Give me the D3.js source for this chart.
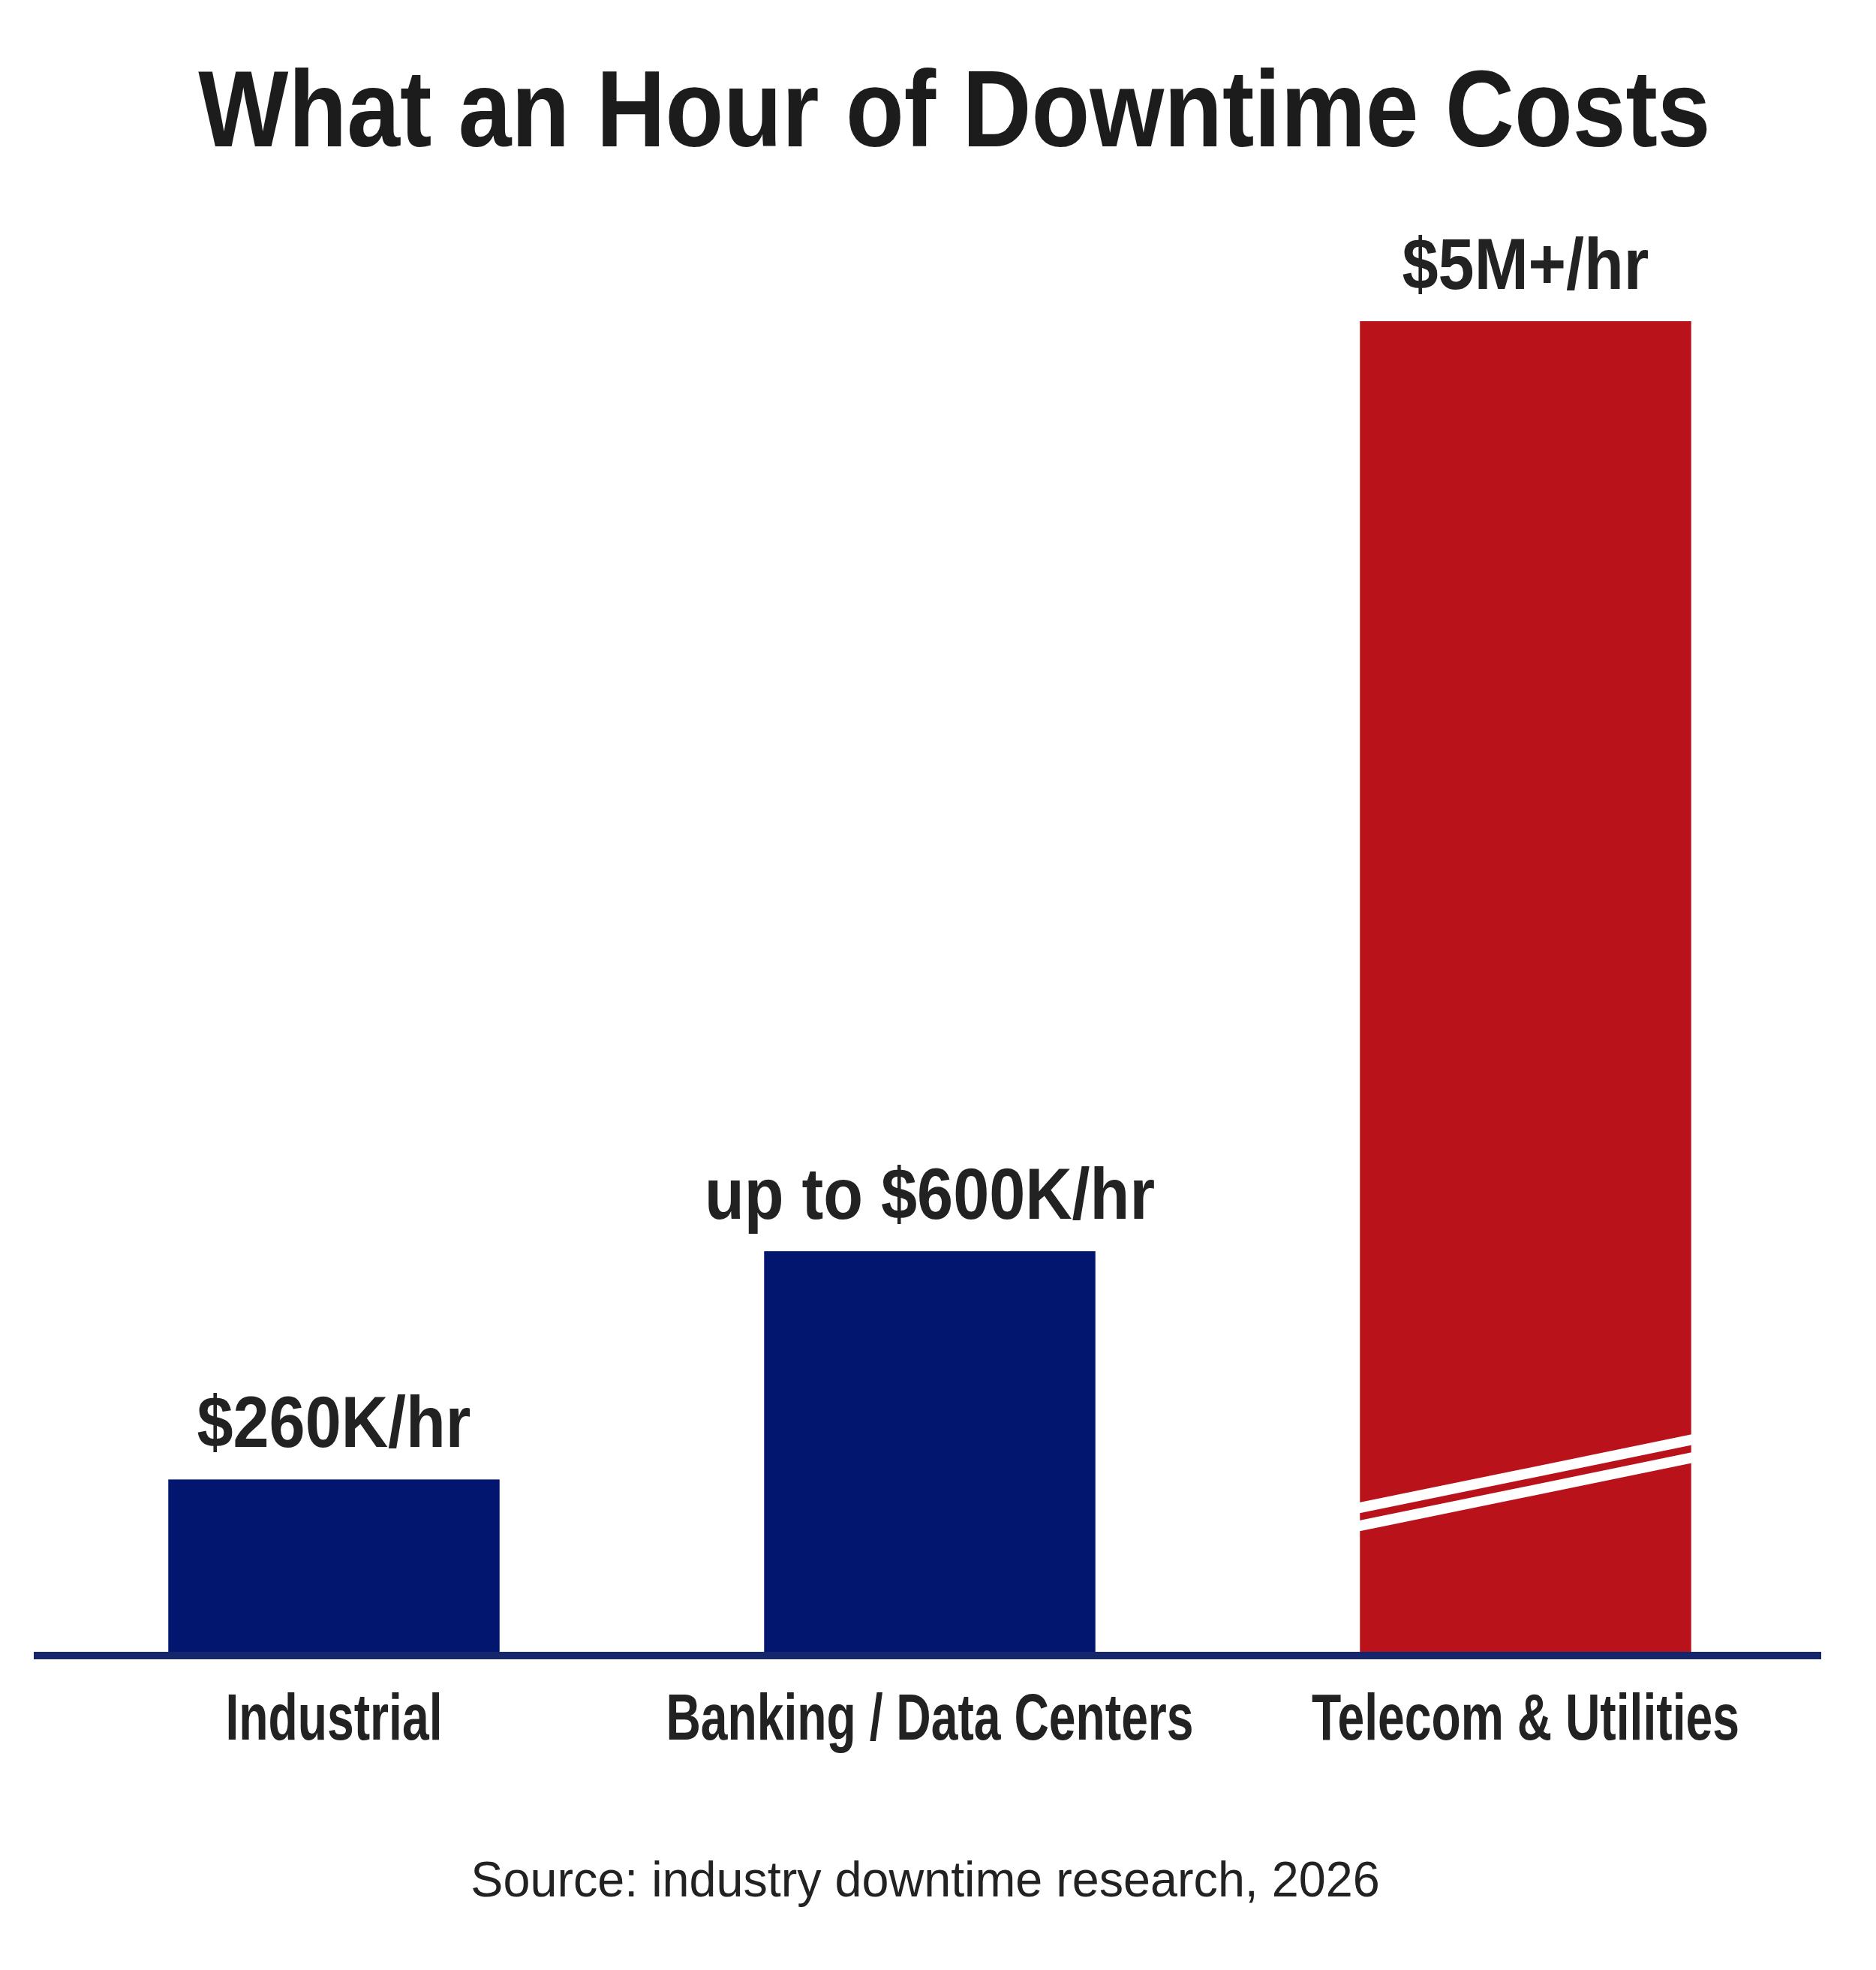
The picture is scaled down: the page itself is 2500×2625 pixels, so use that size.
<!DOCTYPE html>
<html>
<head>
<meta charset="utf-8">
<script src="https://cdn.jsdelivr.net/npm/d3@7"></script>
<style>
  html, body { margin: 0; padding: 0; background: #fff; }
  svg { display: block; }
</style>
</head>
<body>
<div id="container"></div>
<script>
// data (cost per hour in $K)
var categories = ["Industrial", "Banking / Data Centers", "Telecom & Utilities"];
var values = [260, 600, 5000];
var valueLabels = ["$260K/hr", "up to $600K/hr", "$5M+/hr"];
var broken = [false, false, true];
var barColors = ["#021670", "#021670", "#b9121b"];

var title = "What an Hour of Downtime Costs";
var source = "Source: industry downtime research, 2026";

var width = 2500,
    height = 2625;

var font = "'Liberation Sans', Arial, Helvetica, sans-serif";

var svg = d3.select("#container").append("svg")
    .attr("width", width)
    .attr("height", height);

svg.append("rect")
    .attr("width", width)
    .attr("height", height)
    .attr("fill", "#fff");

// scales
var x = d3.scaleBand()
    .domain(categories)
    .range([48, 2430])
    .paddingInner(0.444)
    .paddingOuter(0.222);

// axis is broken for the tall bar, so clamp it at the top of the plot
var y = d3.scaleLinear()
    .domain([0, 1985])
    .range([2204, 428])
    .clamp(true);

var breakAt = 255;

var data = categories.map(function(c, i) {
  return { name: c, value: values[i], label: valueLabels[i], broken: broken[i], color: barColors[i] };
});

// bars
var bars = svg.append("g").attr("class", "bars");

bars.selectAll("rect")
    .data(data)
    .enter()
    .append("rect")
    .attr("x", function(d) { return x(d.name); })
    .attr("y", function(d) { return y(d.value); })
    .attr("width", x.bandwidth())
    .attr("height", function(d) { return y(0) - y(d.value); })
    .attr("fill", function(d) { return d.color; });

// break marks on the broken bar
var slope = -0.205;
data.filter(function(d) { return d.broken; }).forEach(function(d) {
  var x0 = x(d.name) - 14,
      x1 = x(d.name) + x.bandwidth() + 14,
      xm = x(d.name) + x.bandwidth() / 2,
      ym = y(breakAt);
  [-12, 12].forEach(function(off) {
    bars.append("line")
        .attr("x1", x0)
        .attr("y1", ym + off + slope * (x0 - xm))
        .attr("x2", x1)
        .attr("y2", ym + off + slope * (x1 - xm))
        .attr("stroke", "#fff")
        .attr("stroke-width", 14);
  });
});

// baseline
svg.append("line")
    .attr("x1", 45)
    .attr("x2", 2427)
    .attr("y1", y(0) + 2)
    .attr("y2", y(0) + 2)
    .attr("stroke", "#16266c")
    .attr("stroke-width", 10);

// value labels
svg.append("g").selectAll("text")
    .data(data)
    .enter()
    .append("text")
    .attr("transform", function(d) {
      return "translate(" + (x(d.name) + x.bandwidth() / 2) + "," + (y(d.value) - 43) + ") scale(0.9,1)";
    })
    .attr("text-anchor", "middle")
    .attr("font-family", font)
    .attr("font-weight", "bold")
    .attr("font-size", "96px")
    .attr("fill", "#222")
    .text(function(d) { return d.label; });

// category labels
svg.append("g").selectAll("text")
    .data(data)
    .enter()
    .append("text")
    .attr("transform", function(d) {
      return "translate(" + (x(d.name) + x.bandwidth() / 2) + ",2318) scale(0.73,1)";
    })
    .attr("text-anchor", "middle")
    .attr("font-family", font)
    .attr("font-weight", "bold")
    .attr("font-size", "88px")
    .attr("fill", "#222")
    .text(function(d) { return d.name; });

// title
svg.append("text")
    .attr("transform", "translate(1272,195) scale(0.884,1)")
    .attr("text-anchor", "middle")
    .attr("font-family", font)
    .attr("font-weight", "bold")
    .attr("font-size", "144px")
    .attr("fill", "#1c1c1c")
    .text(title);

// source note
svg.append("text")
    .attr("transform", "translate(1233,2527) scale(0.98,1)")
    .attr("text-anchor", "middle")
    .attr("font-family", font)
    .attr("font-size", "66px")
    .attr("fill", "#222")
    .text(source);
</script>
</body>
</html>
